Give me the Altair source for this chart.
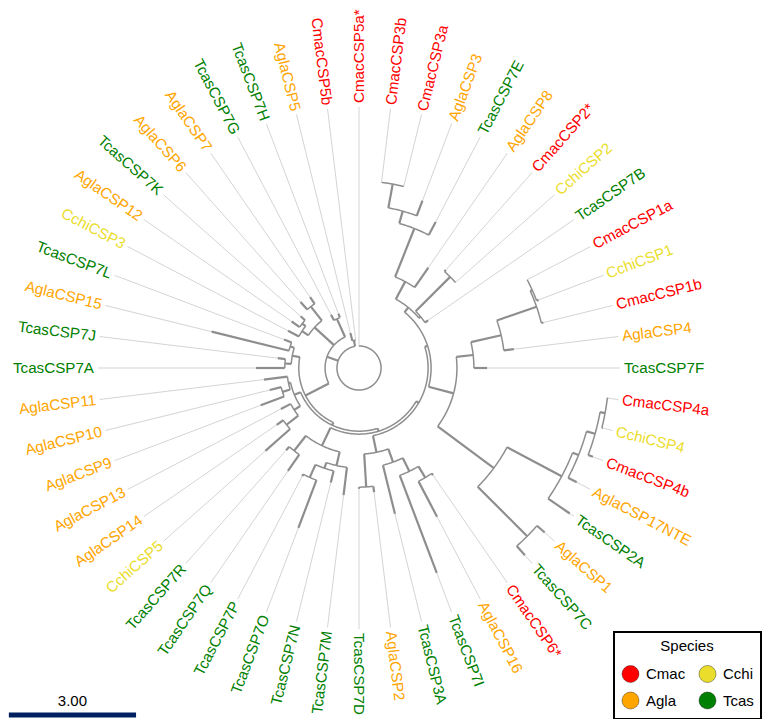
import math
import altair as alt
import pandas as pd

# ---------------- data ----------------
leaf_names = [
    "CmacCSP5a*", "CmacCSP3b", "CmacCSP3a", "AglaCSP3", "TcasCSP7E", "AglaCSP8",
    "CmacCSP2*", "CchiCSP2", "TcasCSP7B", "CmacCSP1a", "CchiCSP1", "CmacCSP1b",
    "AglaCSP4", "TcasCSP7F", "CmacCSP4a", "CchiCSP4", "CmacCSP4b", "AglaCSP17NTE",
    "TcasCSP2A", "AglaCSP1", "TcasCSP7C", "CmacCSP6*", "AglaCSP16", "TcasCSP7I",
    "TcasCSP3A", "AglaCSP2", "TcasCSP7D", "TcasCSP7M", "TcasCSP7N", "TcasCSP7O",
    "TcasCSP7P", "TcasCSP7Q", "TcasCSP7R", "CchiCSP5", "AglaCSP14", "AglaCSP13",
    "AglaCSP9", "AglaCSP10", "AglaCSP11", "TcasCSP7A", "TcasCSP7J", "AglaCSP15",
    "TcasCSP7L", "CchiCSP3", "AglaCSP12", "TcasCSP7K", "AglaCSP6", "AglaCSP7",
    "TcasCSP7G", "TcasCSP7H", "AglaCSP5", "CmacCSP5b",
]
leaf_species = [
    "Cmac", "Cmac", "Cmac", "Agla", "Tcas", "Agla",
    "Cmac", "Cchi", "Tcas", "Cmac", "Cchi", "Cmac",
    "Agla", "Tcas", "Cmac", "Cchi", "Cmac", "Agla",
    "Tcas", "Agla", "Tcas", "Cmac", "Agla", "Tcas",
    "Tcas", "Agla", "Tcas", "Tcas", "Tcas", "Tcas",
    "Tcas", "Tcas", "Tcas", "Cchi", "Agla", "Agla",
    "Agla", "Agla", "Agla", "Tcas", "Tcas", "Agla",
    "Tcas", "Cchi", "Agla", "Tcas", "Agla", "Agla",
    "Tcas", "Tcas", "Agla", "Cmac",
]
leaf_parent = [
    "root", "n3b3a", "n3b3a", "nA3", "nE", "n8",
    "n2", "n2", "nB7", "n1a", "n1a", "n1b",
    "n146", "n115", "n4a", "n4a", "n4b", "n17",
    "n2A", "n1C", "n1C", "n6_16", "n6_16", "n7I",
    "n3A", "n2D", "n2D", "nMN", "nNOP", "nOP",
    "nOP", "nQR", "nQR", "n14_5", "n14_5", "n13",
    "n9_10", "n9_10", "n11", "n7A7J", "n7A7J", "n15L",
    "n15L", "nUL_a", "n12K", "n12K", "nUL_b", "nUL_b",
    "nGH", "nGH", "n5", "n5",
]
# distance of each tip from the root (tree units, same units as the 3.00 scale bar)
leaf_depth = [
    0.52, 4.41, 4.41, 4.22, 3.89, 2.88,
    3.09, 3.04, 1.98, 4.48, 4.53, 4.48,
    3.68, 3.02, 5.92, 5.92, 5.90, 5.80,
    6.04, 5.85, 5.90, 3.07, 3.96, 5.17,
    3.54, 2.95, 2.85, 3.02, 2.78, 4.03,
    2.88, 2.95, 2.59, 2.95, 2.36, 2.08,
    2.48, 2.17, 2.26, 2.43, 1.93, 3.58,
    1.89, 1.89, 1.93, 1.84, 2.08, 2.03,
    1.42, 1.37, 0.85, 0.66,
]

node_names = [
    "root", "N1", "n5", "M", "M5", "M4", "M3", "M2",
    "nU", "n8", "nE", "nA3", "n3b3a", "nB7", "n2",
    "nodeB", "n115", "n146", "n1b", "n1a", "n168", "n2A", "n17", "n4b", "n4a", "n1C",
    "BR", "n3A", "n7I", "n6_16", "n2D",
    "BL", "nMN", "nNOP", "nOP", "nQR",
    "LL", "n13", "n14_5", "n11", "n9_10",
    "LU", "n7A7J", "n15L",
    "nUL", "nUL_a", "n12K", "nUL_b", "nGH",
]
node_parent = [
    "", "root", "root", "N1", "M", "M5", "M4", "M3",
    "M2", "nU", "n8", "nE", "nA3", "nU", "nB7",
    "M2", "nodeB", "n115", "n146", "n1b", "nodeB", "n168", "n2A", "n17", "n4b", "n168",
    "M3", "BR", "n3A", "n7I", "BR",
    "M4", "BL", "nMN", "nNOP", "BL",
    "M5", "LL", "n13", "LL", "n11",
    "M", "LU", "LU",
    "N1", "nUL", "nUL_a", "nUL", "N1",
]
node_depth = [
    0.52, 0.80, 0.66, 1.42, 1.49, 1.56, 1.63, 1.70,
    1.84, 2.31, 3.54, 3.84, 4.41, 1.89, 3.04,
    2.31, 2.71, 3.44, 4.43, 4.48, 3.96, 5.42, 5.57, 5.78, 5.90, 5.61,
    2.03, 2.36, 2.71, 3.02, 2.81,
    2.03, 2.36, 2.50, 2.83, 2.48,
    1.65, 1.82, 2.17, 1.70, 1.89,
    1.60, 1.75, 1.70,
    1.42, 1.60, 1.70, 1.84, 1.27,
]

# legend is filled column by column: Cmac/Agla in the first column, Cchi/Tcas in the second
species_order = ["Cmac", "Agla", "Cchi", "Tcas"]
species_colors = ["#FF0000", "#FFA500", "#EBDD2C", "#008000"]

scale_bar_length = 3.00
scale_bar_label = "3.00"

# ---------------- layout constants ----------------
W, H = 758, 711
PX_PER_UNIT = 42.4
CX, CY = 351, 360          # tree centre inside the chart (px)
GUIDE_END = 6.16           # end of the thin tip-guides (units)
LABEL_AT = 6.25            # start of the tip labels (units)
X_DOM = [-CX / PX_PER_UNIT, (W - CX) / PX_PER_UNIT]
Y_DOM = [-(H - CY) / PX_PER_UNIT, CY / PX_PER_UNIT]

# ---------------- tree geometry ----------------
N = len(leaf_names)
depth, parent = {}, {}
for n, p, d in zip(node_names, node_parent, node_depth):
    depth[n], parent[n] = d, p
for n, p, d in zip(leaf_names, leaf_parent, leaf_depth):
    depth[n], parent[n] = d, p
children = {}
for n in node_names + leaf_names:
    if parent[n]:
        children.setdefault(parent[n], []).append(n)

ang = {n: i * 360.0 / N for i, n in enumerate(leaf_names)}


def get_angle(n):
    if n not in ang:
        a = [get_angle(c) for c in children[n]]
        ang[n] = (min(a) + max(a)) / 2.0
    return ang[n]


for n in node_names:
    get_angle(n)


def pt(r, a):
    t = math.radians(a)
    return r * math.sin(t), r * math.cos(t)


branch_rows, arc_rows, guide_rows = [], [], []
seg = 0
for n in node_names + leaf_names:
    p = parent[n]
    if p and depth[n] - depth[p] > 1e-6:
        for k, r in enumerate((depth[p], depth[n])):
            x, y = pt(r, ang[n])
            branch_rows.append({"seg": seg, "o": k, "x": x, "y": y})
        seg += 1
for n in node_names:
    a = [ang[c] for c in children[n]]
    a0, a1 = min(a), max(a)
    steps = max(2, int(abs(a1 - a0) / 0.75) + 2)
    for k in range(steps):
        x, y = pt(depth[n], a0 + (a1 - a0) * k / (steps - 1))
        arc_rows.append({"seg": seg, "o": k, "x": x, "y": y})
    seg += 1
for n in leaf_names:
    for k, r in enumerate((depth[n], GUIDE_END)):
        x, y = pt(r, ang[n])
        guide_rows.append({"seg": seg, "o": k, "x": x, "y": y})
    seg += 1

label_rows = []
for n, s in zip(leaf_names, leaf_species):
    a = ang[n]
    x, y = pt(LABEL_AT, a)
    right = a <= 180.0
    rot = (a - 90.0) % 360 if right else (a - 270.0) % 360
    label_rows.append({"name": n, "species": s, "x": x, "y": y,
                       "rot": rot, "side": "R" if right else "L"})
labels = pd.DataFrame(label_rows)

xs = alt.Scale(domain=X_DOM, nice=False, zero=False)
ys = alt.Scale(domain=Y_DOM, nice=False, zero=False)
X = alt.X("x:Q", scale=xs, axis=None)
Y = alt.Y("y:Q", scale=ys, axis=None)


def lines(rows, color, width):
    return alt.Chart(pd.DataFrame(rows)).mark_line(
        color=color, strokeWidth=width, strokeCap="butt", interpolate="linear"
    ).encode(x=X, y=Y, detail="seg:N", order="o:Q")


guides = lines(guide_rows, "#D4D4D4", 1)
arcs = lines(arc_rows, "#8E8E8E", 1.5)
branches = lines(branch_rows, "#8E8E8E", 2.2)

color = alt.Color(
    "species:N",
    scale=alt.Scale(domain=species_order, range=species_colors),
    legend=alt.Legend(
        title="Species", orient="none", legendX=606, legendY=624, columns=2,
        symbolType="circle", symbolSize=290, symbolStrokeWidth=1,
        symbolStrokeColor="rgba(0,0,0,0.35)", symbolOpacity=1,
        labelFontSize=15, titleFontSize=15, titleFontWeight="normal",
        titleAnchor="middle", padding=7, strokeColor="black",
        fillColor="white", columnPadding=10, rowPadding=4, labelOffset=6,
        titlePadding=10, labelFont="Liberation Sans", titleFont="Liberation Sans",
        labelColor="black", titleColor="black",
    ),
)

text_common = dict(fontSize=15.2, font="Liberation Sans", baseline="middle")
labels_r = alt.Chart(labels[labels.side == "R"]).mark_text(align="left", **text_common).encode(
    x=X, y=Y, text="name:N", angle=alt.Angle("rot:Q", scale=None), color=color)
labels_l = alt.Chart(labels[labels.side == "L"]).mark_text(align="right", **text_common).encode(
    x=X, y=Y, text="name:N", angle=alt.Angle("rot:Q", scale=None), color=color)

bar_x0 = X_DOM[0] + 0.02
bar_df = pd.DataFrame({"x": [bar_x0], "x2": [bar_x0 + scale_bar_length],
                       "y": [-(707 - CY) / PX_PER_UNIT],
                       "ty": [-(693 - CY) / PX_PER_UNIT],
                       "tx": [bar_x0 + scale_bar_length / 2], "t": [scale_bar_label]})
bar = alt.Chart(bar_df).mark_rule(color="#002060", strokeWidth=5, strokeCap="butt").encode(
    x=X, x2="x2:Q", y=Y)
bar_text = alt.Chart(bar_df).mark_text(fontSize=15, font="Liberation Sans", color="#000000",
                                       baseline="middle").encode(
    x=alt.X("tx:Q", scale=xs, axis=None), y=alt.Y("ty:Q", scale=ys, axis=None), text="t:N")

chart = alt.layer(guides, arcs, branches, labels_r, labels_l, bar, bar_text).properties(
    width=W, height=H, autosize=alt.AutoSizeParams(type="none"), padding=0
).configure_view(stroke=None).configure_legend(strokeWidth=2)

chart.save("out.html", embed_options={"renderer": "svg", "actions": False})
